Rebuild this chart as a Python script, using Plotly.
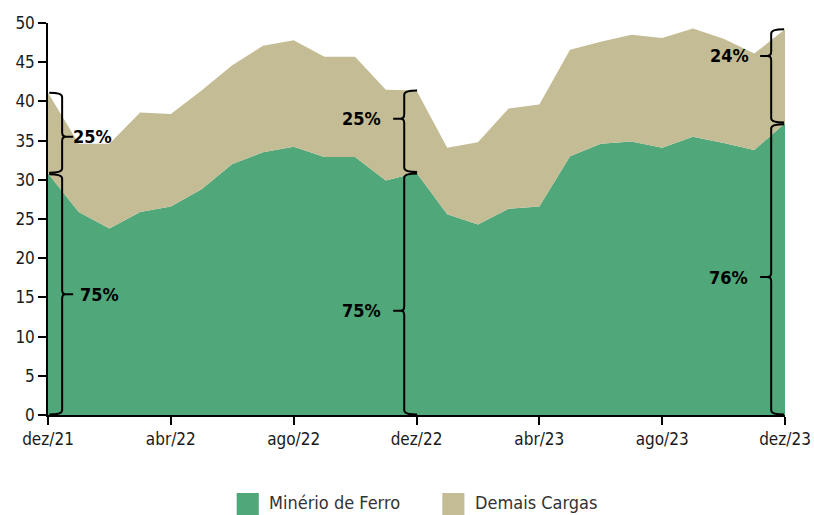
import plotly.graph_objects as go

# ---- data ----
month_index = list(range(25))  # dez/21 .. dez/23
tick_positions = [0, 4, 8, 12, 16, 20, 24]
tick_labels = ["dez/21", "abr/22", "ago/22", "dez/22", "abr/23", "ago/23", "dez/23"]

minerio = [30.8, 25.9, 23.8, 25.9, 26.6, 28.8, 32.0, 33.5, 34.2, 32.9, 32.9, 29.9,
           30.9, 25.6, 24.3, 26.3, 26.6, 33.0, 34.6, 34.9, 34.1, 35.5, 34.7, 33.8, 37.2]
demais = [10.3, 8.7, 10.8, 12.7, 11.8, 12.6, 12.6, 13.6, 13.6, 12.8, 12.8, 11.6,
          10.5, 8.5, 10.5, 12.8, 13.0, 13.6, 13.0, 13.6, 14.0, 13.8, 13.3, 12.3, 12.0]

series_names = ["Minério de Ferro", "Demais Cargas"]
brace_months = [0, 12, 24]
share_labels = [("75%", "25%"), ("75%", "25%"), ("76%", "24%")]

# ---- style ----
GREEN = "#4fa77a"
TAN = "#c4bc94"
FONT = "DejaVu Sans Condensed, Liberation Sans Narrow, Roboto"

fig = go.Figure()
fig.add_trace(go.Scatter(x=month_index, y=minerio, name=series_names[0], mode="lines",
                         stackgroup="one", line=dict(width=0, color=GREEN),
                         fillcolor=GREEN, showlegend=False))
fig.add_trace(go.Scatter(x=month_index, y=demais, name=series_names[1], mode="lines",
                         stackgroup="one", line=dict(width=0, color=TAN),
                         fillcolor=TAN, showlegend=False))

# brace geometry (positions / style only)
brace_cfg = {
    0:  dict(xv=0.46, side=1, lo_tip=15.4, up_tip=35.5, lo_gap=5, up_gap=-2),
    12: dict(xv=11.60, side=-1, lo_tip=13.3, up_tip=37.8, lo_gap=10, up_gap=10),
    24: dict(xv=23.55, side=-1, lo_tip=17.6, up_tip=45.8, lo_gap=10, up_gap=9),
}

def brace_path(xv, y0, y1, ytip, side):
    # side=+1: tip points right, ends hook left; side=-1 the opposite
    w = 0.42      # hook length (months)
    t = 0.36      # tip length
    r = 0.55      # curve radius (y units)
    d = 0.12
    he = xv - side * w
    tx = xv + side * t
    dx = xv + side * d
    p = (f"M {he},{y1} Q {xv},{y1} {xv},{y1 - r} "
         f"L {xv},{ytip + r} Q {xv},{ytip} {dx},{ytip} L {tx},{ytip} "
         f"M {dx},{ytip} Q {xv},{ytip} {xv},{ytip - r} "
         f"L {xv},{y0 + r} Q {xv},{y0} {he},{y0}")
    return p

shapes = []
annotations = []
for k, m in enumerate(brace_months):
    cfg = brace_cfg[m]
    g = minerio[m]
    tot = minerio[m] + demais[m]
    xv, side = cfg["xv"], cfg["side"]
    for (y0, y1, ytip, lab, gap) in [(0.05, g - 0.1, cfg["lo_tip"], share_labels[k][0], cfg["lo_gap"]),
                                     (g + 0.1, tot, cfg["up_tip"], share_labels[k][1], cfg["up_gap"])]:
        shapes.append(dict(type="path", path=brace_path(xv, y0, y1, ytip, side),
                           xref="x", yref="y", line=dict(color="black", width=2)))
        annotations.append(dict(x=xv + side * 0.36, y=ytip, xref="x", yref="y",
                                text=f"<b>{lab}</b>", showarrow=False,
                                xanchor="left" if side > 0 else "right",
                                xshift=gap * side,
                                font=dict(family=FONT, size=18, color="black")))

# custom legend
legend_items = [(0.256, GREEN, series_names[0]), (0.535, TAN, series_names[1])]
for x0, col, name in legend_items:
    shapes.append(dict(type="rect", xref="paper", yref="paper",
                       x0=x0, x1=x0 + 0.030, y0=-0.199, y1=-0.258,
                       fillcolor=col, line=dict(width=0)))
    annotations.append(dict(x=x0 + 0.041, y=-0.224, xref="paper", yref="paper",
                            text=name, showarrow=False, xanchor="left", yanchor="middle",
                            font=dict(family=FONT, size=18, color="#333333")))

fig.update_layout(
    width=814, height=515,
    margin=dict(l=48, r=29, t=23, b=100),
    paper_bgcolor="white", plot_bgcolor="white",
    shapes=shapes, annotations=annotations,
    font=dict(family=FONT, size=17, color="#1a1a1a"),
    xaxis=dict(range=[0, 24], tickmode="array", tickvals=tick_positions, ticktext=tick_labels,
               automargin=False,
               showgrid=False, zeroline=False, showline=True, linecolor="black", linewidth=1.5,
               ticks="outside", ticklen=8, tickwidth=1.5, tickcolor="black",
               tickfont=dict(family=FONT, size=17, color="#1a1a1a")),
    yaxis=dict(range=[0, 50], tickmode="array", tickvals=list(range(0, 51, 5)),
               automargin=False,
               showgrid=False, zeroline=False, showline=True, linecolor="black", linewidth=1.5,
               ticks="outside", ticklen=8, tickwidth=1.5, tickcolor="black",
               tickfont=dict(family=FONT, size=17, color="#1a1a1a")),
)

fig.write_html("out.html", config={"displayModeBar": False},
               post_script="document.body.style.margin='0';document.body.style.overflow='hidden';")
